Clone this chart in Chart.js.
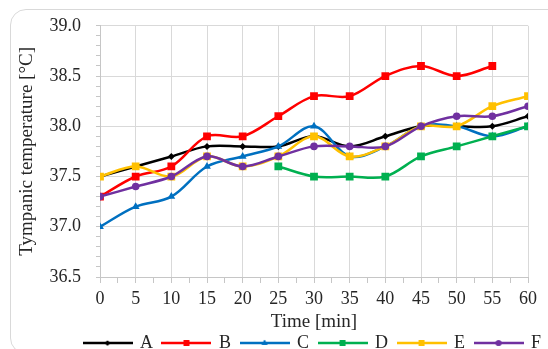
<!DOCTYPE html>
<html>
<head>
<meta charset="utf-8">
<script src="https://cdn.jsdelivr.net/npm/chart.js@4.4.1/dist/chart.umd.min.js"></script>
<style>
  html, body { margin: 0; padding: 0; background: #fff; overflow: hidden; }
  #wrap { position: relative; width: 548px; height: 349px; overflow: hidden; }
  #frame {
    position: absolute; left: 10px; top: 9px; width: 560px; height: 343px;
    border: 1px solid #d9d9d9; border-radius: 16px; pointer-events: none;
  }
  canvas { position: absolute; left: 0; top: 0; }
</style>
</head>
<body>
<div id="wrap">
  <canvas id="chart" width="548" height="371"></canvas>
  <div id="frame"></div>
</div>
<script>
// time axis (min)
const times = [0, 5, 10, 15, 20, 25, 30, 35, 40, 45, 50, 55, 60];

// tympanic temperature per group
const seriesA = [37.5, 37.6, 37.7, 37.8, 37.8, 37.8, 37.9, 37.8, 37.9, 38.0, 38.0, 38.0, 38.1];
const seriesB = [37.3, 37.5, 37.6, 37.9, 37.9, 38.1, 38.3, 38.3, 38.5, 38.6, 38.5, 38.6, null];
const seriesC = [37.0, 37.2, 37.3, 37.6, 37.7, 37.8, 38.0, 37.7, 37.8, 38.0, 38.0, 37.9, 38.0];
const seriesD = [null, null, null, null, null, 37.6, 37.5, 37.5, 37.5, 37.7, 37.8, 37.9, 38.0];
const seriesE = [37.5, 37.6, 37.5, 37.7, 37.6, 37.7, 37.9, 37.7, 37.8, 38.0, 38.0, 38.2, 38.3];
const seriesF = [37.3, 37.4, 37.5, 37.7, 37.6, 37.7, 37.8, 37.8, 37.8, 38.0, 38.1, 38.1, 38.2];

const groupNames = ["A", "B", "C", "D", "E", "F"];
const yMin = 36.5;
const yMax = 39.0;

const serif = "'Liberation Serif', 'Times New Roman', serif";
const textColor = "#262626";
const gridColor = "#d9d9d9";
const axisColor = "#c6c6c6";

const styles = [
  { color: "#000000", pointStyle: "rectRot", radius: 3.5 },
  { color: "#ff0000", pointStyle: "rect", radius: 5.5 },
  { color: "#0070c0", pointStyle: "triangle", radius: 4.5 },
  { color: "#00b050", pointStyle: "rect", radius: 5.5 },
  { color: "#ffc000", pointStyle: "rect", radius: 5.5 },
  { color: "#7030a0", pointStyle: "circle", radius: 3.8 },
];

const allSeries = [seriesA, seriesB, seriesC, seriesD, seriesE, seriesF];

// small line+marker icon for the legend
function legendIcon(style) {
  const c = document.createElement("canvas");
  c.width = 50;
  c.height = 14;
  const ctx = c.getContext("2d");
  ctx.strokeStyle = style.color;
  ctx.lineWidth = 2.5;
  ctx.beginPath();
  ctx.moveTo(0, 7);
  ctx.lineTo(50, 7);
  ctx.stroke();
  ctx.fillStyle = style.color;
  Chart.helpers.drawPoint(ctx, {
    pointStyle: style.pointStyle,
    radius: style.radius * 0.75,
    rotation: 0,
    borderWidth: 0,
  }, 25, 7);
  ctx.fill();
  return c;
}

const datasets = groupNames.map((name, i) => ({
  label: name,
  data: times.map((t, j) => ({ x: t, y: allSeries[i][j] })),
  borderColor: styles[i].color,
  backgroundColor: styles[i].color,
  borderWidth: 2.5,
  pointStyle: styles[i].pointStyle,
  pointRadius: styles[i].radius,
  pointBorderWidth: 0,
  tension: 0.35,
  order: groupNames.length - i,
}));

// keep the legend on one row and move it where the original sits
const legendPlace = {
  id: "legendPlace",
  afterLayout(chart) {
    const lg = chart.legend;
    lg.maxWidth = 640;
    lg.fit();
    const h = lg.height;
    lg.left = 74;
    lg.right = 640;
    lg.width = lg.right - lg.left;
    lg.top = 324;
    lg.bottom = lg.top + h;
  },
};

new Chart(document.getElementById("chart"), {
  type: "line",
  data: { datasets: datasets },
  plugins: [legendPlace],
  options: {
    responsive: false,
    animation: false,
    layout: { padding: { top: 21, right: 20, left: 0, bottom: 0 } },
    plugins: {
      tooltip: { enabled: false },
      legend: {
        position: "bottom",
        align: "start",
        fullSize: true,
        labels: {
          usePointStyle: true,
          pointStyleWidth: 47,
          padding: 10,
          color: textColor,
          font: { family: serif, size: 18 },
          generateLabels: function (chart) {
            return chart.data.datasets.map((ds, i) => ({
              text: ds.label,
              pointStyle: legendIcon(styles[i]),
              fillStyle: ds.borderColor,
              strokeStyle: ds.borderColor,
              lineWidth: 0,
              fontColor: textColor,
              hidden: false,
              datasetIndex: i,
            }));
          },
        },
      },
    },
    scales: {
      x: {
        type: "linear",
        min: times[0],
        max: times[times.length - 1],
        afterFit: function (scale) { scale.height = 56; },
        border: { color: axisColor, width: 1 },
        grid: {
          color: (ctx) => (ctx.tick && ctx.tick.value % 5 === 0 ? gridColor : "rgba(0,0,0,0)"),
          tickColor: axisColor,
          tickLength: 6,
        },
        ticks: {
          stepSize: 2.5,
          autoSkip: false,
          maxRotation: 0,
          padding: 5,
          color: textColor,
          font: { family: serif, size: 18 },
          callback: (v) => (v % 5 === 0 ? String(v) : ""),
        },
        title: {
          display: true,
          text: "Time [min]",
          color: textColor,
          font: { family: serif, size: 19 },
          padding: { top: 0, bottom: 0 },
        },
      },
      y: {
        min: yMin,
        max: yMax,
        afterFit: function (scale) { scale.width = 100; },
        border: { color: axisColor, width: 1 },
        grid: {
          color: (ctx) => (ctx.tick && Math.round(ctx.tick.value * 10) % 5 === 0 ? gridColor : "rgba(0,0,0,0)"),
          tickColor: axisColor,
          tickLength: 4,
        },
        ticks: {
          stepSize: 0.1,
          autoSkip: false,
          padding: 15,
          color: textColor,
          font: { family: serif, size: 18 },
          callback: (v) => (Math.round(v * 10) % 5 === 0 ? v.toFixed(1) : ""),
        },
        title: {
          display: true,
          text: "Tympanic temperature [°C]",
          color: textColor,
          font: { family: serif, size: 19 },
          padding: { top: 16, bottom: 0 },
        },
      },
    },
  },
});
</script>
</body>
</html>
